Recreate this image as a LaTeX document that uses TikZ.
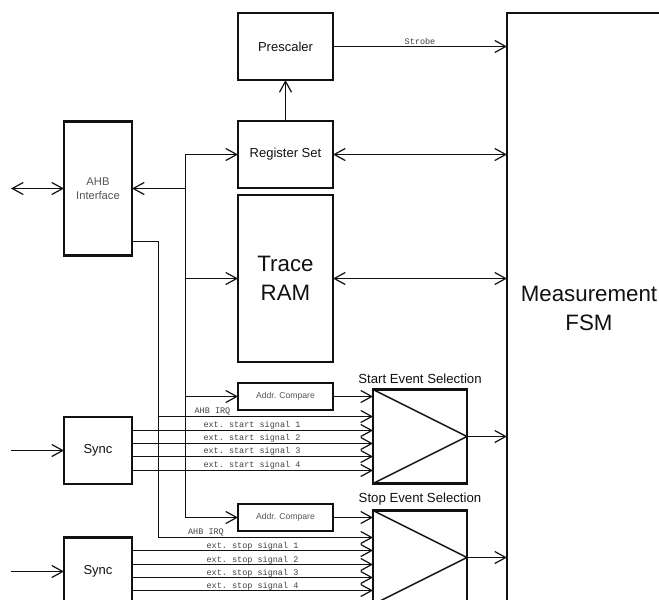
\documentclass[tikz,border=0pt]{standalone}
\usepackage{fontspec}
\setmainfont{Liberation Sans}
\setmonofont{Liberation Mono}
\usetikzlibrary{arrows.meta,positioning}
\definecolor{ink}{HTML}{111111}
\definecolor{muted}{HTML}{555555}
\tikzset{
  blockbox/.style={
    rectangle, draw=ink, line width=2.8pt, fill=white, outer sep=0pt, inner sep=0pt,
    text=ink, align=center, font=\fontsize{13}{15}\selectfont
  },
  bigbox/.style={blockbox, font=\fontsize{22.3}{29}\selectfont},
  smallbox/.style={blockbox, text=muted, font=\fontsize{8.6}{10}\selectfont},
  sigline/.style={draw=ink, line width=1.2pt},
  sigarrow/.style={sigline, -{Straight Barb[length=11pt, width=12pt, line width=1.2pt]}},
  sigboth/.style={sigline, {Straight Barb[length=11pt, width=12pt, line width=1.2pt]}-{Straight Barb[length=11pt, width=12pt, line width=1.2pt]}},
  siglabel/.style={font=\ttfamily\fontsize{8.5}{10}\selectfont, text=ink!80, inner sep=0pt},
  titlelabel/.style={font=\fontsize{13.2}{15}\selectfont, text=ink, inner sep=0pt}
}

\begin{document}
\begin{tikzpicture}[x=1pt, y=-1pt]
  \path[use as bounding box, clip] (0,0) rectangle (659,600);
  \fill[white] (0,0) rectangle (659,600);

  % blocks
  \node[blockbox, minimum width=95pt, minimum height=67pt] (prescaler) at (285.5,46.5) {Prescaler};
  \node[blockbox, minimum width=95pt, minimum height=67pt, below=41pt of prescaler] (regset) {Register Set};
  \node[bigbox, minimum width=95pt, minimum height=167pt, below=7pt of regset] (ram) {Trace\\RAM};
  \node[smallbox, minimum width=95pt, minimum height=27pt] (cmpstart) at (285.5,396.5) {Addr. Compare};
  \node[smallbox, minimum width=95pt, minimum height=27pt] (cmpstop) at (285.5,517.5) {Addr. Compare};
  \node[blockbox, minimum width=68pt, minimum height=134pt, font=\fontsize{11.2}{14}\selectfont, text=muted] (ahb) at (98,188.5) {AHB\\Interface};
  \node[blockbox, minimum width=68pt, minimum height=67pt] (syncstart) at (98,450.5) {Sync};
  \node[blockbox, minimum width=68pt, minimum height=68pt] (syncstop) at (98,571.5) {Sync};
  \node[blockbox, minimum width=94pt, minimum height=94pt] (muxstart) at (420,436.5) {};
  \node[blockbox, minimum width=94pt, minimum height=94pt] (muxstop) at (420,557.5) {};
  \node[bigbox, minimum width=164pt, minimum height=590pt] (fsm) at (589,308) {Measurement\\FSM};
  \node[titlelabel, above=5.5pt of muxstart] (titlestart) {Start Event Selection};
  \node[titlelabel, above=5.5pt of muxstop] (titlestop) {Stop Event Selection};

  % free ends on the left
  \coordinate (busin) at (11,188.5);
  \coordinate (extstart) at (11,450.5);
  \coordinate (extstop) at (11,571.5);
  \coordinate (bustop) at (185.5,188.5);

  % multiplexer triangles
  \draw[line width=1.4pt, draw=ink] (muxstart.north west) -- (muxstart.east) -- (muxstart.south west);
  \draw[line width=1.4pt, draw=ink] (muxstop.north west) -- (muxstop.east) -- (muxstop.south west);

  % top part
  \draw[sigarrow] (prescaler.east) -- (fsm.west |- prescaler) node[siglabel, pos=0.5, above=1pt] (strobe) {Strobe};
  \draw[sigarrow] (regset) -- (prescaler);
  \draw[sigboth] (regset.east) -- (fsm.west |- regset);
  \draw[sigboth] (ram.east) -- (fsm.west |- ram);
  \draw[sigboth] (busin) -- (ahb.west);

  % internal bus
  \draw[sigarrow] (bustop) -- (ahb.east);
  \draw[sigarrow] (bustop) |- (regset.west);
  \draw[sigarrow] (bustop) |- (ram.west);
  \draw[sigarrow] (bustop) |- (cmpstart.west);
  \draw[sigarrow] (bustop) |- (cmpstop.west);
  \draw[sigarrow] (cmpstart.east) -- (muxstart.west |- cmpstart);
  \draw[sigarrow] (cmpstop.east) -- (muxstop.west |- cmpstop);

  % irq line
  \draw[sigarrow] (ahb.east |- 0,241.5) -| (158.5,537.5) -- (muxstop.west |- 0,537.5);
  \draw[sigarrow] (158.5,416.5) -- (muxstart.west |- 0,416.5);
  \node[siglabel] (irqstart) at (212.5,411.5) {AHB IRQ};
  \node[siglabel] (irqstop) at (206,532) {AHB IRQ};

  % external signals
  \draw[sigarrow] (extstart) -- (syncstart.west);
  \draw[sigarrow] (extstop) -- (syncstop.west);
  \foreach \n/\y in {1/430.5,2/443.5,3/456.5,4/470.5} {
    \draw[sigarrow] (syncstart.east |- 0,\y) -- (muxstart.west |- 0,\y);
    \node[siglabel] (labstart\n) at (252,\y-5) {ext. start signal \n};
  }
  \foreach \n/\y in {1/550.5,2/564.5,3/577.5,4/590.5} {
    \draw[sigarrow] (syncstop.east |- 0,\y) -- (muxstop.west |- 0,\y);
    \node[siglabel] (labstop\n) at (252.5,\y-4.5) {ext. stop signal \n};
  }

  % outputs
  \draw[sigarrow] (muxstart.east) -- (fsm.west |- muxstart);
  \draw[sigarrow] (muxstop.east) -- (fsm.west |- muxstop);
\end{tikzpicture}
\end{document}
